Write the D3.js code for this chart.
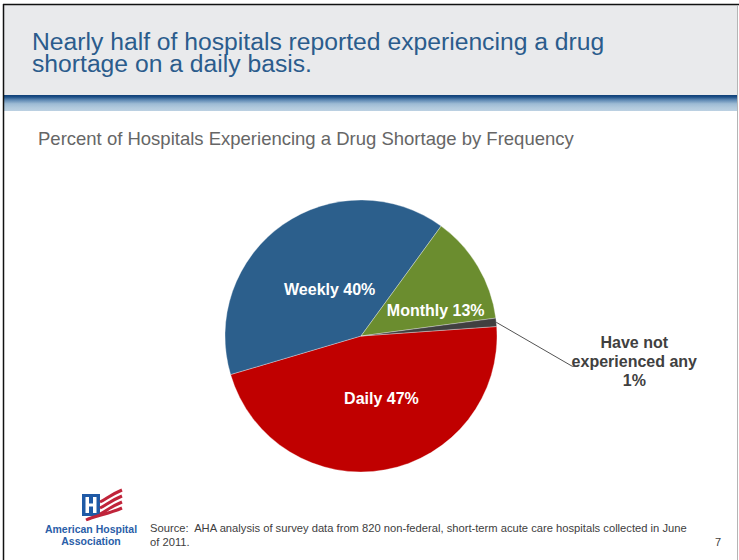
<!DOCTYPE html>
<html>
<head>
<meta charset="utf-8">
<script src="https://cdn.jsdelivr.net/npm/d3@7"></script>
<style>
  html, body { margin: 0; padding: 0; background: #fff; }
  svg { display: block; font-family: "Liberation Sans", Arial, sans-serif; }
</style>
</head>
<body>
<svg id="slide" width="739" height="560"></svg>
<script>
// Survey results: share of hospitals by how often they hit a drug shortage
const categories = ["Daily", "Weekly", "Monthly", "Have not experienced any"];
const percents = [47, 40, 13, 1];
const sliceColors = ["#c00000", "#2c5f8c", "#6b8d2f", "#404040"];

const titleLines = ["Nearly half of hospitals reported experiencing a drug", "shortage on a daily basis."];
const subtitle = "Percent of Hospitals Experiencing a Drug Shortage by Frequency";
const sourceLines = [
  "Source:  AHA analysis of survey data from 820 non-federal, short-term acute care hospitals collected in June",
  "of 2011."
];
const pageNumber = "7";

const W = 739, H = 560;
const svg = d3.select("#slide");
const defs = svg.append("defs");

// ---- slide frame and header band ----
svg.append("rect").attr("x", 0).attr("y", 0).attr("width", W).attr("height", H).attr("fill", "#ffffff");
svg.append("rect").attr("x", 4).attr("y", 5).attr("width", 733).attr("height", 90).attr("fill", "#e9eaec");

const grad = defs.append("linearGradient").attr("id", "band").attr("x1", 0).attr("y1", 0).attr("x2", 0).attr("y2", 1);
[["0%", "#0f4077"], ["12%", "#1c4f86"], ["30%", "#5b86b1"], ["55%", "#9dbbd4"], ["80%", "#b2cadd"], ["100%", "#bcd1e2"]]
  .forEach(([o, c]) => grad.append("stop").attr("offset", o).attr("stop-color", c));
svg.append("rect").attr("x", 4).attr("y", 95).attr("width", 733).attr("height", 16).attr("fill", "url(#band)");

// frame edges
svg.append("line").attr("x1", 3.5).attr("y1", 4).attr("x2", 3.5).attr("y2", H).attr("stroke", "#111").attr("stroke-width", 1.5);
svg.append("line").attr("x1", 3).attr("y1", 4.5).attr("x2", W).attr("y2", 4.5).attr("stroke", "#111").attr("stroke-width", 1.5);
svg.append("line").attr("x1", 737.5).attr("y1", 5).attr("x2", 737.5).attr("y2", H).attr("stroke", "#b5b5b5").attr("stroke-width", 1);

// ---- title ----
const title = svg.append("text").attr("x", 32).attr("y", 50)
  .attr("fill", "#2b5c8c").attr("font-size", 24.7);
titleLines.forEach((t, i) => title.append("tspan").attr("x", 32).attr("dy", i ? 22 : 0).text(t));

svg.append("text").attr("x", 38).attr("y", 145)
  .attr("fill", "#666666").attr("font-size", 18.5).text(subtitle);

// ---- pie ----
const cx = 361, cy = 336, radius = 136;
const startDeg = 86;
const pie = d3.pie().sort(null).value(d => d.value)
  .startAngle(startDeg * Math.PI / 180)
  .endAngle(startDeg * Math.PI / 180 + 2 * Math.PI);
const data = categories.map((c, i) => ({ name: c, value: percents[i], color: sliceColors[i] }));
const arcs = pie(data);
const arc = d3.arc().innerRadius(0).outerRadius(radius);

const g = svg.append("g").attr("transform", `translate(${cx},${cy})`);
g.selectAll("path.slice").data(arcs).enter().append("path")
  .attr("class", "slice")
  .attr("d", arc)
  .attr("fill", d => d.data.color)
  .attr("stroke", "rgba(255,255,255,0.55)")
  .attr("stroke-width", 0.6);

// inside labels: radius fraction and angular nudge per slice
const labelTweak = {
  "Daily": { r: 0.48, da: -8 },
  "Weekly": { r: 0.41, da: 1 },
  "Monthly": { r: 0.58, da: 12 }
};
arcs.filter(d => labelTweak[d.data.name]).forEach(d => {
  const tw = labelTweak[d.data.name];
  const a = (d.startAngle + d.endAngle) / 2 + tw.da * Math.PI / 180;
  const rr = radius * tw.r;
  g.append("text")
    .attr("x", Math.sin(a) * rr)
    .attr("y", -Math.cos(a) * rr)
    .attr("dy", "0.35em")
    .attr("text-anchor", "middle")
    .attr("fill", "#ffffff")
    .attr("font-weight", "bold")
    .attr("font-size", 16)
    .text(`${d.data.name} ${d.data.value}%`);
});

// outside label for the smallest slice, with a leader line
const small = arcs[3];
const midA = (small.startAngle + small.endAngle) / 2;
const p0 = [Math.sin(midA) * radius, -Math.cos(midA) * radius];
const elbow = [p0[0] + 76, p0[1] + 44];
const p2 = [elbow[0] + 6, elbow[1]];
g.append("polyline")
  .attr("points", [p0, elbow, p2].map(p => p.join(",")).join(" "))
  .attr("fill", "none").attr("stroke", "#404040").attr("stroke-width", 0.9);

const outLines = ["Have not", "experienced any", `${small.data.value}%`];
const outText = g.append("text")
  .attr("x", p2[0] + 56).attr("y", p2[1] - 18)
  .attr("text-anchor", "middle")
  .attr("fill", "#404040").attr("font-weight", "bold").attr("font-size", 16);
outLines.forEach((t, i) => outText.append("tspan").attr("x", p2[0] + 56).attr("dy", i ? 19 : 0).text(t));

// ---- footer: logo, source, page number ----
const logo = svg.append("g").attr("transform", "translate(82,494)");
logo.append("rect").attr("x", 0).attr("y", 0).attr("width", 18).attr("height", 22).attr("fill", "#1f5aa6");
logo.append("rect").attr("x", 3.5).attr("y", 3).attr("width", 3.5).attr("height", 16).attr("fill", "#fff");
logo.append("rect").attr("x", 11).attr("y", 3).attr("width", 3.5).attr("height", 16).attr("fill", "#fff");
logo.append("rect").attr("x", 5).attr("y", 9.5).attr("width", 8).attr("height", 3).attr("fill", "#fff");
[0, 6, 12, 18].forEach((o, i) => {
  const x0 = i === 3 ? 4 : 18;
  logo.append("path")
    .attr("d", `M${x0},${8 + o} C${x0 + 8},${4 + o} ${26},${2 + o} ${40},${-4 + o}`)
    .attr("fill", "none").attr("stroke", "#c0243a").attr("stroke-width", 3);
});
svg.append("text").attr("x", 91).attr("y", 533).attr("text-anchor", "middle")
  .attr("fill", "#2a5ea8").attr("font-weight", "bold").attr("font-size", 10.5).text("American Hospital");
svg.append("text").attr("x", 91).attr("y", 545).attr("text-anchor", "middle")
  .attr("fill", "#2a5ea8").attr("font-weight", "bold").attr("font-size", 10.5).text("Association");

const src = svg.append("text").attr("x", 150).attr("y", 532).attr("fill", "#404040")
  .attr("font-size", 11.2).style("white-space", "pre");
sourceLines.forEach((t, i) => src.append("tspan").attr("x", 150).attr("dy", i ? 13.5 : 0).text(t));
svg.append("text").attr("x", 721).attr("y", 546).attr("text-anchor", "end")
  .attr("fill", "#404040").attr("font-size", 11).text(pageNumber);
</script>
</body>
</html>
